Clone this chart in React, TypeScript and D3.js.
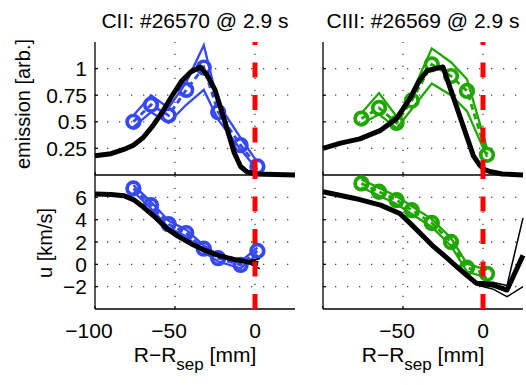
import { useEffect, useRef } from 'react'
import * as d3 from 'd3'

// tick values
const xTicks = [-100, -50, 0]
const emisTicks = [0.25, 0.5, 0.75, 1]
const velTicks = [-2, 0, 2, 4, 6]

// CII measured (#26570)
const ciiR = [-76, -65, -54, -43, -32, -23, -9, 1.5]
const ciiEm = [0.5, 0.66, 0.56, 0.8, 1.01, 0.59, 0.28, 0.08]
const ciiEmHi = [0.56, 0.75, 0.63, 0.87, 1.22, 0.67, 0.35, 0.12]
const ciiEmLo = [0.45, 0.59, 0.49, 0.66, 0.8, 0.52, 0.24, 0.05]
const ciiVel = [6.8, 5.3, 3.6, 2.8, 1.4, 0.55, -0.05, 1.2]
const ciiVelHi = [7.1, 5.6, 3.9, 3.1, 1.7, 0.85, 0.25, 1.5]
const ciiVelLo = [6.5, 5.0, 3.3, 2.5, 1.1, 0.25, -0.35, 0.9]

// CII model
const ciiModelEmR = [-100, -90, -82, -76, -70, -64, -58, -52, -46, -40, -34, -30, -25, -20, -16, -13, -9, -5, 0, 25]
const ciiModelEm = [0.18, 0.2, 0.24, 0.28, 0.35, 0.46, 0.59, 0.74, 0.88, 0.97, 1.015, 0.94, 0.8, 0.56, 0.36, 0.21, 0.08, 0.03, 0.01, 0]
const ciiModelVelR = [-100, -90, -82, -76, -70, -63, -55, -48, -40, -32, -24, -17, -11, -5, 2]
const ciiModelVel = [6.3, 6.25, 6.15, 5.8, 5.15, 4.3, 3.2, 2.5, 1.85, 1.3, 0.85, 0.58, 0.38, 0.22, 0.08]
const ciiModelBandR = [-5, 3]
const ciiModelVelHi = [0.3, 0.5]
const ciiModelVelLo = [0.15, -0.4]

// CIII measured (#26569)
const ciiiR = [-76, -65, -54, -44.5, -32, -20, -10, 2.5]
const ciiiEm = [0.53, 0.63, 0.49, 0.7, 1.04, 0.93, 0.79, 0.19]
const ciiiEmHi = [0.58, 0.77, 0.55, 0.77, 1.19, 1.06, 0.9, 0.25]
const ciiiEmLo = [0.48, 0.57, 0.44, 0.62, 0.86, 0.75, 0.6, 0.17]
const ciiiVel = [7.25, 6.5, 5.75, 4.85, 3.7, 2.0, -0.3, -0.85]
const ciiiVelHi = [7.6, 6.85, 6.1, 5.2, 4.05, 2.35, 0.05, -0.5]
const ciiiVelLo = [6.9, 6.15, 5.4, 4.5, 3.35, 1.65, -0.65, -1.2]

// CIII model
const ciiiModelEmR = [-100, -89, -77, -64, -54, -46, -40, -35, -30, -25, -6, -2, 1, 5, 12, 25]
const ciiiModelEm = [0.25, 0.3, 0.34, 0.42, 0.53, 0.71, 0.88, 0.98, 1.0, 1.015, 0.18, 0.09, 0.05, 0.03, 0.01, 0]
const ciiiModelVelR = [-100, -80, -64, -52, -45, -38, -31, -24, -16.5, -10, -4, 6, 15, 25]
const ciiiModelVel = [6.5, 5.9, 5.3, 4.55, 3.6, 2.6, 1.6, 0.75, -0.2, -1.0, -1.7, -1.85, -2.3, 0.8]
const ciiiModelBandR = [-4, 6, 15, 25]
const ciiiModelVelHi = [-1.55, -1.6, -1.9, 4.15]
const ciiiModelVelLo = [-1.85, -2.2, -2.9, -2.0]

const BLUE = '#3548f4'
const GREEN = '#20a600'
const FONT = 'Liberation Sans, Arial, Helvetica, sans-serif'

type Pts = [number, number][]
const zip = (a: number[], b: number[]): Pts => a.map((d, i) => [d, b[i]])

export default function App() {
  const svgRef = useRef<SVGSVGElement>(null)

  useEffect(() => {
    const svg = d3.select(svgRef.current)
    svg.selectAll('*').remove()

    const cols = [
      d3.scaleLinear().domain([-100, 25]).range([95, 295]),
      d3.scaleLinear().domain([-100, 25]).range([323, 523]),
    ]
    const rows = [
      { y: d3.scaleLinear().domain([0, 1.25]).range([175, 42]), ticks: emisTicks, fmt: (d: number) => String(d) },
      { y: d3.scaleLinear().domain([-4, 8]).range([309, 175]), ticks: velTicks, fmt: (d: number) => (d < 0 ? '\u2212' + Math.abs(d) : String(d)) },
    ]

    const panels = [
      { c: 0, r: 0, color: BLUE, pts: zip(ciiR, ciiEm), hi: zip(ciiR, ciiEmHi), lo: zip(ciiR, ciiEmLo), model: zip(ciiModelEmR, ciiModelEm) },
      { c: 0, r: 1, color: BLUE, pts: zip(ciiR, ciiVel), hi: zip(ciiR, ciiVelHi), lo: zip(ciiR, ciiVelLo), model: zip(ciiModelVelR, ciiModelVel),
        mHi: zip(ciiModelBandR, ciiModelVelHi), mLo: zip(ciiModelBandR, ciiModelVelLo) },
      { c: 1, r: 0, color: GREEN, pts: zip(ciiiR, ciiiEm), hi: zip(ciiiR, ciiiEmHi), lo: zip(ciiiR, ciiiEmLo), model: zip(ciiiModelEmR, ciiiModelEm) },
      { c: 1, r: 1, color: GREEN, pts: zip(ciiiR, ciiiVel), hi: zip(ciiiR, ciiiVelHi), lo: zip(ciiiR, ciiiVelLo), model: zip(ciiiModelVelR, ciiiModelVel),
        mHi: zip(ciiiModelBandR, ciiiModelVelHi), mLo: zip(ciiiModelBandR, ciiiModelVelLo) },
    ]

    panels.forEach((p) => {
      const x = cols[p.c]
      const row = rows[p.r]
      const y = row.y
      const [xl, xr] = x.range()
      const [yb, yt] = y.range()
      const g = svg.append('g')
      const line = d3.line<[number, number]>().x((d) => x(d[0])).y((d) => y(d[1]))

      // dotted grid
      g.selectAll('.hg').data(row.ticks).join('line')
        .attr('x1', xl).attr('x2', xr).attr('y1', (d) => y(d)).attr('y2', (d) => y(d))
        .attr('stroke', '#444').attr('stroke-width', 1.3).attr('stroke-dasharray', '1.3,10.7')
      g.selectAll('.vg').data(xTicks.slice(1)).join('line')
        .attr('x1', (d) => x(d)).attr('x2', (d) => x(d)).attr('y1', yb).attr('y2', yt)
        .attr('stroke', '#444').attr('stroke-width', 1.3).attr('stroke-dasharray', '1.3,10.7')

      // axes
      g.append('line').attr('x1', xl).attr('x2', xl).attr('y1', yb).attr('y2', yt).attr('stroke', '#000').attr('stroke-width', 1.3)
      g.append('line').attr('x1', xl).attr('x2', xr).attr('y1', yb).attr('y2', yb).attr('stroke', '#000').attr('stroke-width', 1.5)
      g.selectAll('.yt').data(row.ticks).join('line')
        .attr('x1', xl).attr('x2', xl + 3).attr('y1', (d) => y(d)).attr('y2', (d) => y(d)).attr('stroke', '#000').attr('stroke-width', 1.2)
      g.selectAll('.xt').data(xTicks).join('line')
        .attr('x1', (d) => x(d)).attr('x2', (d) => x(d)).attr('y1', yb).attr('y2', yb - 3).attr('stroke', '#000').attr('stroke-width', 1.2)

      // measurement envelope
      g.append('path').attr('d', line(p.hi)).attr('fill', 'none').attr('stroke', p.color).attr('stroke-width', 2.3)
      g.append('path').attr('d', line(p.lo)).attr('fill', 'none').attr('stroke', p.color).attr('stroke-width', 2.3)
      g.append('path').attr('d', line(p.pts)).attr('fill', 'none').attr('stroke', p.color)
        .attr('stroke-width', 2.8).attr('stroke-dasharray', '6,4')
      g.selectAll('circle').data(p.pts).join('circle')
        .attr('cx', (d) => x(d[0])).attr('cy', (d) => y(d[1])).attr('r', 6.3)
        .attr('fill', 'none').attr('stroke', p.color).attr('stroke-width', 3.7)

      // model
      if (p.mHi) {
        g.append('path').attr('d', line(p.mHi)).attr('fill', 'none').attr('stroke', '#000').attr('stroke-width', 1.5)
        g.append('path').attr('d', line(p.mLo)).attr('fill', 'none').attr('stroke', '#000').attr('stroke-width', 1.5)
      }
      g.append('path').attr('d', line(p.model)).attr('fill', 'none').attr('stroke', '#000')
        .attr('stroke-width', 5).attr('stroke-linejoin', 'round')

      // separatrix
      g.append('path').attr('d', `M${x(0)},${yb}L${x(0)},${yt}`)
        .attr('stroke', '#ff0000').attr('stroke-width', 5).attr('stroke-dasharray', '15,17.5')

      // y tick labels (left column only)
      if (p.c === 0) {
        g.selectAll('.yl').data(row.ticks).join('text')
          .attr('x', xl - 8).attr('y', (d) => y(d)).attr('dy', '0.36em')
          .attr('text-anchor', 'end').style('font-family', FONT).style('font-size', '21px')
          .text(row.fmt)
      }
      // x tick labels (bottom row only)
      if (p.r === 1) {
        g.selectAll('.xl').data(p.c === 0 ? xTicks : xTicks.slice(1)).join('text')
          .attr('x', (d) => x(d)).attr('y', 338).attr('dx', (d) => (d < 0 ? -6 : 0))
          .attr('text-anchor', 'middle').style('font-family', FONT).style('font-size', '21px')
          .text((d) => (d < 0 ? '\u2212' + Math.abs(d) : String(d)))
        const lab = g.append('text').attr('x', (xl + xr) / 2).attr('y', 362)
          .attr('text-anchor', 'middle').style('font-family', FONT).style('font-size', '21px')
        lab.append('tspan').text('R\u2212R')
        lab.append('tspan').attr('dy', 8).style('font-size', '17px').text('sep')
        lab.append('tspan').attr('dy', -8).text(' [mm]')
      }
    })

    // titles
    const titles = ['CII: #26570 @ 2.9 s', 'CIII: #26569 @ 2.9 s']
    svg.selectAll('.title').data(titles).join('text')
      .attr('x', (d, i) => (cols[i].range()[0] + cols[i].range()[1]) / 2).attr('y', 28)
      .attr('text-anchor', 'middle').style('font-family', FONT).style('font-size', '21px')
      .text((d) => d)

    // y labels
    svg.append('text').attr('transform', 'translate(30,104) rotate(-90)')
      .attr('text-anchor', 'middle').style('font-family', FONT).style('font-size', '20px')
      .text('emission [arb.]')
    svg.append('text').attr('transform', 'translate(52,243) rotate(-90)')
      .attr('text-anchor', 'middle').style('font-family', FONT).style('font-size', '20px')
      .text('u [km/s]')
  }, [])

  return (
    <svg ref={svgRef} width={526} height={385}
      style={{ position: 'absolute', left: 0, top: 0, background: '#fff' }}></svg>
  )
}
